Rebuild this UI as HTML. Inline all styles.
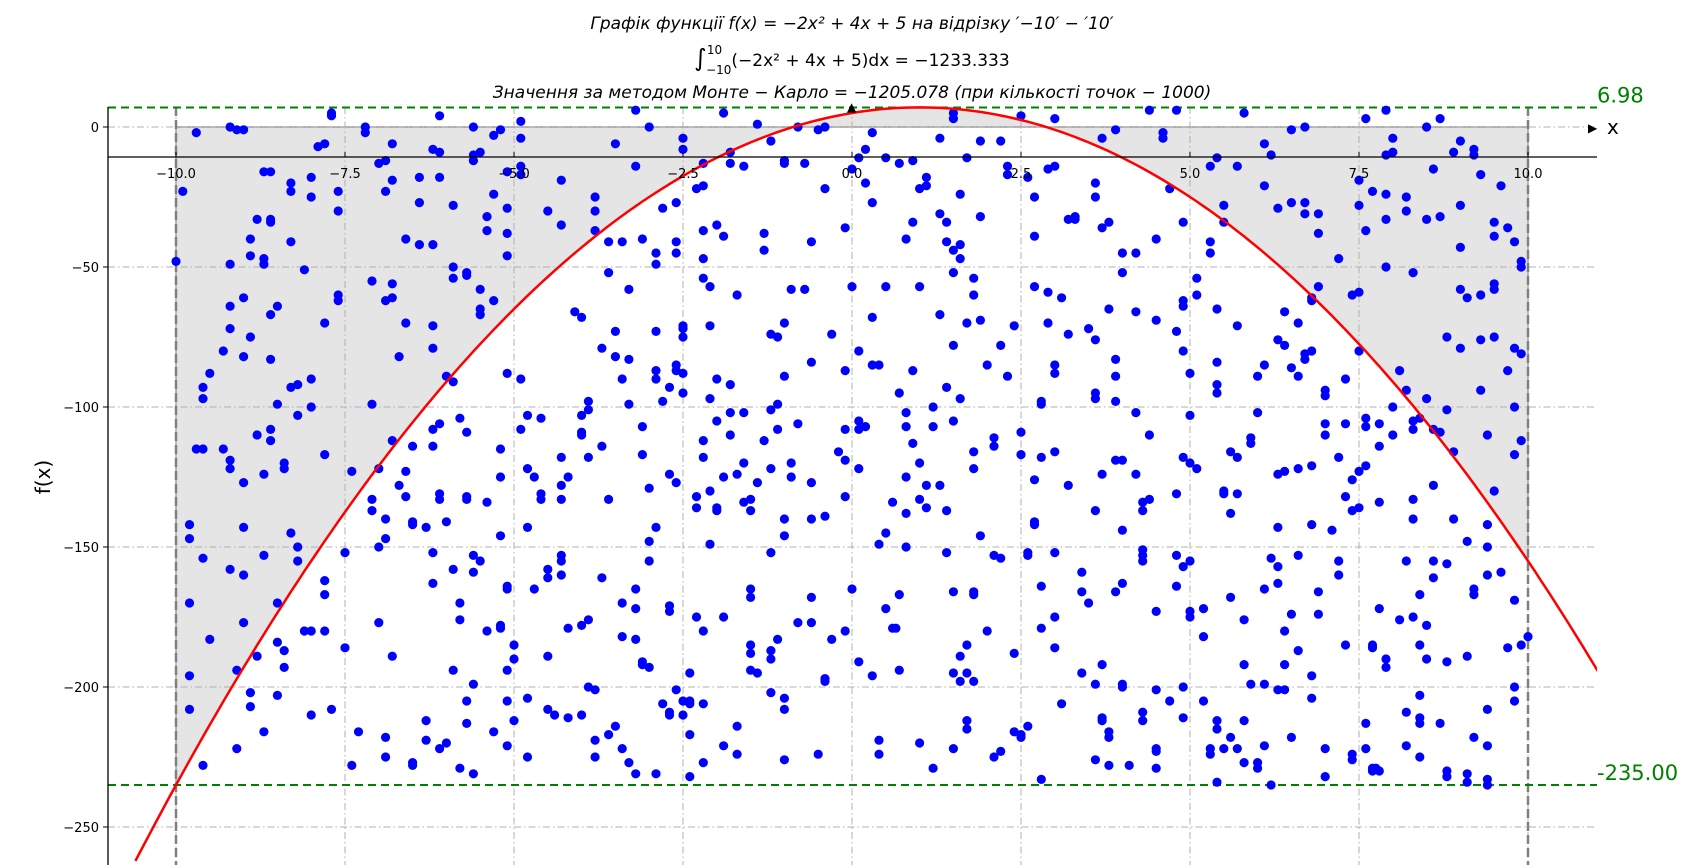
<!DOCTYPE html>
<html><head><meta charset="utf-8"><style>
html,body{margin:0;padding:0;background:#fff;}
svg{display:block;font-family:"DejaVu Sans","Liberation Sans",sans-serif;}
</style></head><body>
<svg id="chart" width="1698" height="865" xmlns="http://www.w3.org/2000/svg">
<g font-size="17" text-anchor="middle" fill="#000">
<text x="852" y="29" font-style="italic">Графік функції f(x)  =  −2x² + 4x + 5 на відрізку ′−10′ − ′10′</text>
<text x="852" y="66"><tspan font-size="24">∫</tspan><tspan font-size="12" dy="-12">10</tspan><tspan font-size="12" dx="-16" dy="20">−10</tspan><tspan dy="-8">(−2x² + 4x + 5)dx  =  −1233.333</tspan></text>
<text x="852" y="98" font-style="italic">Значення за методом Монте − Карло  =  −1205.078 (при кількості точок − 1000)</text>
</g>
<g id="plot"></g>
</svg>
<script>
const xTicks=[-10,-7.5,-5,-2.5,0,2.5,5,7.5,10];
const xTickLabels=["−10.0","−7.5","−5.0","−2.5","0.0","2.5","5.0","7.5","10.0"];
const yTicks=[0,-50,-100,-150,-200,-250];
const yTickLabels=["0","−50","−100","−150","−200","−250"];
const fMax=6.98, fMin=-235.00;
const pts=[[-10,-48],[-9.9,-23],[-9.8,-170],[-9.8,-196],[-9.8,-147],[-9.8,-142],[-9.7,-115],[-9.6,-115],[-9.6,-93],[-9.6,-97],[-9.5,-88],[-9.6,-154],[-9.5,-183],[-9.6,-228],[-9.8,-208],[-9.7,-2],
[-9.3,-80],[-9.3,-115],[-9.2,-119],[-9.2,-122],[-9.2,-158],[-9.2,-64],[-9.2,-49],[-9.1,-222],[-9.1,-194],[-9.0,-177],[-9.0,-143],[-9.2,-72],[-9.2,0],[-9.1,-1],[-9.0,-1],[-9.0,-82],[-9.0,-61],[-9.0,-127],[-9.0,-160],[-8.9,-207],[-8.9,-202],[-8.9,-40],[-8.9,-46],[-8.9,-75],
[-8.8,-110],[-8.8,-189],[-8.8,-33],[-8.7,-16],[-8.7,-47],[-8.7,-49],[-8.7,-124],[-8.7,-153],[-8.7,-216],[-8.6,-34],[-8.6,-33],[-8.6,-67],[-8.6,-83],[-8.6,-108],[-8.6,-112],[-8.5,-184],[-8.5,-203],[-8.5,-170],[-8.6,-16],[-8.5,-99],[-8.5,-64],
[-8.4,-122],[-8.4,-120],[-8.4,-187],[-8.4,-193],[-8.3,-41],[-8.3,-20],[-8.3,-23],[-8.3,-93],[-8.3,-145],[-8.2,-92],[-8.2,-103],[-8.2,-155],[-8.2,-150],[-8.1,-51],[-8.1,-180],[-8.0,-25],[-8.0,-18],[-8.0,-90],[-8.0,-100],[-8.0,-180],[-8.0,-210],[-7.9,-7],[-7.8,-6],[-7.8,-117],[-7.8,-70],[-7.8,-162],[-7.8,-167],[-7.8,-180],[-7.7,-208],[-7.7,4],[-7.7,5],[-7.6,-23],[-7.6,-60],[-7.6,-62],[-7.6,-30],[-7.5,-186],[-7.5,-152],[-7.4,-228],[-7.4,-123],[-7.3,-216],
[-7.2,0],[-7.2,-2],[-7.1,-55],[-7.1,-99],[-7.1,-133],[-7.1,-137],[-7.0,-150],[-7.0,-177],[-7.0,-122],[-7.0,-13],[-6.9,-12],[-6.9,-23],[-6.9,-62],[-6.9,-218],[-6.9,-225],[-6.9,-140],[-6.9,-147],[-6.8,-19],[-6.8,-6],[-6.8,-61],[-6.8,-56],[-6.8,-112],[-6.8,-189],[-6.7,-128],[-6.7,-82],[-6.6,-40],[-6.6,-70],[-6.6,-123],[-6.6,-132],[-6.5,-227],[-6.5,-228],[-6.5,-141],[-6.5,-142],[-6.5,-114],[-6.4,-18],[-6.4,-42],[-6.4,-27],[-6.3,-212],[-6.3,-219],[-6.3,-143],
[-6.2,-42],[-6.2,-71],[-6.2,-79],[-6.2,-152],[-6.2,-163],[-6.2,-8],[-6.2,-108],[-6.2,-114],[-6.1,-9],[-6.1,-18],[-6.1,4],[-6.1,-106],[-6.1,-131],[-6.1,-133],[-6.1,-222],[-6.0,-220],[-6.0,-141],[-6.0,-89],[-5.9,-158],[-5.9,-28],[-5.9,-50],[-5.9,-54],[-5.9,-91],[-5.9,-194],[-5.8,-170],[-5.8,-176],[-5.8,-104],[-5.8,-229],[-5.7,-53],[-5.7,-52],[-5.7,-109],[-5.7,-132],[-5.7,-133],[-5.7,-213],[-5.7,-205],[-5.6,0],[-5.6,-10],[-5.6,-12],[-5.6,-153],[-5.6,-159],[-5.6,-199],[-5.6,-231],[-5.5,-58],[-5.5,-65],[-5.5,-67],[-5.5,-9],[-5.5,-155],
[-5.4,-37],[-5.4,-32],[-5.4,-134],[-5.4,-180],[-5.3,-3],[-5.3,-216],[-5.3,-24],[-5.3,-62],[-5.2,-1],[-5.2,-146],[-5.2,-178],[-5.2,-179],[-5.2,-115],[-5.2,-125],[-5.1,-16],[-5.1,-29],[-5.1,-38],[-5.1,-46],[-5.1,-88],[-5.1,-165],[-5.1,-164],[-5.1,-205],[-5.1,-221],[-5.1,-194],[-5.0,-185],[-5.0,-190],[-5.0,-212],[-4.9,-90],[-4.9,-108],[-4.9,-4],[-4.9,2],[-4.9,-17],[-4.9,-14],[-4.8,-103],[-4.8,-122],[-4.8,-225],[-4.8,-204],[-4.8,-143],[-4.7,-125],[-4.7,-165],[-4.6,-131],[-4.6,-133],[-4.6,-104],[-4.5,-30],[-4.5,-158],[-4.5,-161],[-4.5,-208],[-4.5,-189],
[-4.4,-210],[-4.3,-133],[-4.3,-128],[-4.3,-155],[-4.3,-153],[-4.3,-160],[-4.3,-118],[-4.3,-19],[-4.3,-35],[-4.2,-211],[-4.2,-179],[-4.2,-125],[-4.1,-66],[-4.0,-109],[-4.0,-68],[-4.0,-178],[-4.0,-210],[-4.0,-103],[-4.0,-110],[-3.9,-101],[-3.9,-98],[-3.9,-118],[-3.9,-176],[-3.9,-200],[-3.8,-225],[-3.8,-219],[-3.8,-201],[-3.8,-37],[-3.8,-30],[-3.8,-25],[-3.7,-79],[-3.7,-161],[-3.7,-114],[-3.6,-133],[-3.6,-41],[-3.6,-52],[-3.6,-217],[-3.5,-73],[-3.5,-82],[-3.5,-6],[-3.5,-214],[-3.4,-90],[-3.4,-41],[-3.4,-170],[-3.4,-182],[-3.4,-222],[-3.3,-99],[-3.3,-58],[-3.3,-83],[-3.3,-227],[-3.2,-231],[-3.2,-165],[-3.2,-172],[-3.2,-183],[-3.2,-14],[-3.2,6],[-3.1,-40],[-3.1,-117],[-3.1,-191],[-3.1,-192],[-3.1,-107],[-3.0,-129],[-3.0,-148],[-3.0,-155],[-3.0,-193],[-3.0,0],[-2.9,-49],[-2.9,-45],[-2.9,-87],[-2.9,-90],[-2.9,-73],[-2.9,-143],[-2.9,-231],[-2.8,-98],[-2.8,-29],
[-2.8,-206],[-2.7,-173],[-2.7,-171],[-2.7,-209],[-2.7,-210],[-2.7,-124],[-2.7,-93],[-2.6,-127],[-2.6,-85],[-2.6,-87],[-2.6,-45],[-2.6,-41],[-2.6,-27],[-2.6,-201],[-2.5,-210],[-2.5,-205],[-2.5,-95],[-2.5,-88],[-2.5,-72],[-2.5,-75],[-2.5,-71],[-2.5,-4],[-2.5,-8],[-2.4,-195],[-2.4,-205],[-2.4,-206],[-2.4,-232],[-2.4,-217],[-2.3,-175],[-2.3,-136],[-2.3,-132],[-2.3,-22],[-2.2,-54],[-2.2,-47],[-2.2,-37],[-2.2,-13],[-2.2,-21],[-2.2,-112],[-2.2,-118],[-2.2,-180],[-2.2,-206],[-2.2,-227],[-2.1,-149],[-2.1,-130],[-2.1,-97],[-2.1,-71],[-2.1,-57],[-2.0,-90],[-2.0,-105],[-2.0,-137],[-2.0,-136],[-2.0,-35],[-1.9,-125],[-1.9,-221],[-1.9,-175],[-1.9,-39],[-1.9,5],[-1.8,-102],[-1.8,-110],[-1.8,-92],[-1.8,-13],[-1.8,-9],[-1.7,-124],[-1.7,-224],[-1.7,-214],[-1.7,-60],[-1.6,-134],[-1.6,-120],[-1.6,-102],[-1.6,-14],[-1.5,-185],[-1.5,-194],[-1.5,-188],[-1.5,-168],[-1.5,-165],[-1.5,-137],[-1.5,-133],[-1.4,-195],[-1.4,-127],[-1.4,1],[-1.3,-112],[-1.3,-38],[-1.3,-44],[-1.2,-202],[-1.2,-190],[-1.2,-187],[-1.2,-152],[-1.2,-122],[-1.2,-101],[-1.2,-74],[-1.2,-5],[-1.1,-183],[-1.1,-108],[-1.1,-99],[-1.1,-75],[-1.0,-70],[-1.0,-89],[-1.0,-12],[-1.0,-13],[-1.0,-140],[-1.0,-146],[-1.0,-204],[-1.0,-208],[-1.0,-226],[-0.9,-125],[-0.9,-58],[-0.9,-120],[-0.8,0],[-0.8,-106],[-0.8,-177],[-0.7,-13],[-0.7,-58],[-0.6,-127],[-0.6,-140],[-0.6,-168],[-0.6,-177],[-0.6,-84],[-0.6,-41],[-0.5,-1],[-0.5,-224],[-0.4,-139],[-0.4,-197],[-0.4,-198],[-0.4,-22],[-0.4,0],[-0.3,-183],[-0.3,-74],[-0.2,-116],[-0.1,-87],[-0.1,-108],[-0.1,-119],[-0.1,-132],[-0.1,-180],[-0.1,-36],[0.0,-57],[0.0,-15],[0.0,-165],[0.1,-122],[0.1,-105],[0.1,-108],[0.1,-80],[0.1,-11],[0.1,-191],[0.2,-107],[0.2,-8],[0.2,-20],[0.3,-85],[0.3,-27],[0.3,-2],[0.3,-68],[0.3,-196],[0.4,-224],[0.4,-219],[0.4,-149],[0.4,-85],[0.5,-57],[0.5,-11],[0.5,-145],[0.5,-172],[0.6,-179],[0.65,-179],[0.6,-134],[0.7,-194],[0.7,-167],[0.7,-95],[0.7,-13],[0.8,-40],[0.8,-102],[0.8,-107],[0.8,-125],[0.8,-138],[0.8,-150],[0.9,-34],[0.9,-12],[0.9,-87],[0.9,-113],[1.0,-133],[1.0,-120],[1.0,-220],[1.0,-57],[1.0,-22],[1.1,-21],[1.1,-18],[1.1,-128],[1.1,-136],[1.2,-100],[1.2,-229],[1.2,-107],[1.3,-4],[1.3,-31],[1.3,-67],[1.3,-128],[1.4,-34],[1.4,-41],[1.4,-93],[1.4,-137],[1.4,-152],[1.5,5],[1.5,3],[1.5,-44],[1.5,-52],[1.5,-78],[1.5,-105],[1.5,-166],[1.5,-195],[1.5,-222],[1.6,-47],[1.6,-42],[1.6,-24],[1.6,-97],[1.6,-189],[1.6,-198],[1.7,-70],[1.7,-212],[1.7,-215],[1.7,-11],[1.7,-195],[1.7,-185],[1.8,-198],[1.8,-167],[1.8,-166],[1.8,-116],[1.8,-122],[1.8,-60],[1.8,-54],[1.9,-5],[1.9,-32],[1.9,-69],[1.9,-146],[2.0,-85],[2.0,-180],[2.1,-114],[2.1,-111],[2.1,-153],[2.1,-225],[2.2,-5],[2.2,-78],[2.2,-154],[2.2,-223],[2.3,-17],[2.3,-89],[2.3,-14],[2.4,-71],[2.4,-188],[2.4,-216],[2.5,4],[2.5,-217],[2.5,-218],[2.5,-109],[2.5,-117],[2.6,-18],[2.6,-152],[2.6,-153],[2.6,-214],[2.7,-25],[2.7,-39],[2.7,-57],[2.7,-126],[2.7,-141],[2.7,-142],[2.8,-98],[2.8,-99],[2.8,-118],[2.8,-164],[2.8,-179],[2.8,-233],[2.9,-15],[2.9,-59],[2.9,-70],[3.0,-14],[3.0,-88],[3.0,-85],[3.0,-116],[3.0,-152],[3.0,-175],[3.0,-186],[3.0,3],[3.1,-61],[3.1,-206],[3.2,-74],[3.2,-33],[3.2,-128],[3.3,-32],[3.3,-33],[3.4,-195],[3.4,-166],[3.4,-159],[3.5,-72],[3.5,-170],[3.6,-25],[3.6,-20],[3.6,-76],[3.6,-95],[3.6,-97],[3.6,-137],[3.6,-199],[3.6,-226],[3.7,-192],[3.7,-211],[3.7,-212],[3.7,-124],[3.7,-4],[3.7,-36],[3.8,-65],[3.8,-34],[3.8,-216],[3.8,-218],[3.8,-228],[3.9,-166],[3.9,-119],[3.9,-98],[3.9,-89],[3.9,-83],[3.9,-1],[4.0,-52],[4.0,-45],[4.0,-119],[4.0,-144],[4.0,-163],[4.0,-199],[4.0,-200],[4.1,-228],[4.2,-66],[4.2,-45],[4.2,-124],[4.2,-102],[4.3,-137],[4.3,-134],[4.3,-151],[4.3,-153],[4.3,-155],[4.3,-209],[4.3,-212],[4.4,-110],[4.4,-133],[4.4,6],[4.5,-201],[4.5,-222],[4.5,-229],[4.5,-223],[4.5,-173],[4.5,-69],[4.5,-40],[4.6,-4],[4.6,-2],[4.7,-22],[4.7,-205],[4.8,6],[4.8,-73],[4.8,-153],[4.8,-164],[4.8,-131],[4.9,-211],[4.9,-200],[4.9,-157],[4.9,-118],[4.9,-80],[4.9,-64],[4.9,-62],[4.9,-34],[5.0,-88],[5.0,-103],[5.0,-120],[5.0,-155],[5.0,-175],[5.0,-173],[5.1,-54],[5.1,-60],[5.1,-122],[5.2,-182],[5.2,-205],[5.2,-172],[5.3,-41],[5.3,-45],[5.3,-14],[5.3,-222],[5.3,-224],[5.4,-92],[5.4,-95],[5.4,-84],[5.4,-65],[5.4,-11],[5.4,-212],[5.4,-215],[5.4,-234],[5.5,-28],[5.5,-34],[5.5,-130],[5.5,-131],[5.5,-222],[5.6,-116],[5.6,-138],[5.6,-168],[5.6,-218],[5.7,-14],[5.7,-71],[5.7,-118],[5.7,-131],[5.7,-222],[5.8,-192],[5.8,-176],[5.8,-227],[5.8,-212],[5.8,5],[5.9,-111],[5.9,-113],[5.9,-199],[6.0,-227],[6.0,-229],[6.0,-89],[6.0,-102],[6.1,-21],[6.1,-6],[6.1,-85],[6.1,-165],[6.1,-199],[6.1,-221],[6.2,-235],[6.2,-154],[6.2,-10],[6.3,-124],[6.3,-157],[6.3,-163],[6.3,-143],[6.3,-201],[6.3,-29],[6.3,-76],[6.4,-123],[6.4,-66],[6.4,-78],[6.4,-180],[6.4,-192],[6.4,-201],[6.5,-218],[6.5,-174],[6.5,-86],[6.5,-27],[6.5,-1],[6.6,-70],[6.6,-122],[6.6,-89],[6.6,-153],[6.6,-187],[6.7,0],[6.7,-27],[6.7,-31],[6.7,-81],[6.7,-83],[6.8,-80],[6.8,-62],[6.8,-61],[6.8,-142],[6.8,-121],[6.8,-196],[6.8,-204],[6.9,-31],[6.9,-38],[6.9,-57],[6.9,-166],[6.9,-174],[7.0,-94],[7.0,-106],[7.0,-110],[7.0,-232],[7.0,-222],[7.0,-96],[7.1,-144],[7.2,-47],[7.2,-118],[7.2,-155],[7.2,-160],[7.3,-132],[7.3,-185],[7.3,-90],[7.3,-106],[7.4,-126],[7.4,-60],[7.4,-137],[7.4,-224],[7.4,-226],[7.5,-136],[7.5,-123],[7.5,-80],[7.5,-59],[7.5,-19],[7.5,-28],[7.6,3],[7.6,-37],[7.6,-107],[7.6,-104],[7.6,-121],[7.6,-213],[7.6,-222],[7.7,-230],[7.7,-229],[7.7,-23],[7.7,-185],[7.7,-186],[7.75,-229],[7.8,-134],[7.8,-114],[7.8,-106],[7.8,-172],[7.8,-230],[7.9,-190],[7.9,-193],[7.9,6],[7.9,-10],[7.9,-24],[7.9,-33],[7.9,-50],[8.0,-110],[8.0,-100],[8.0,-9],[8.0,-4],[8.1,-176],[8.1,-87],[8.2,-94],[8.2,-155],[8.2,-209],[8.2,-221],[8.2,-25],[8.2,-30],[8.3,-52],[8.3,-105],[8.3,-108],[8.3,-133],[8.3,-140],[8.3,-175],[8.4,-203],[8.4,-211],[8.4,-213],[8.4,-225],[8.4,-104],[8.4,-167],[8.4,-185],[8.5,-178],[8.5,-190],[8.5,0],[8.5,-33],[8.5,-97],[8.6,-108],[8.6,-128],[8.6,-155],[8.6,-161],[8.6,-15],[8.7,3],[8.7,-32],[8.7,-109],[8.7,-213],[8.8,-191],[8.8,-232],[8.8,-230],[8.8,-156],[8.8,-101],[8.8,-75],[8.9,-116],[8.9,-140],[8.9,-9],[9.0,-43],[9.0,-58],[9.0,-79],[9.0,-28],[9.0,-5],[9.1,-61],[9.1,-148],[9.1,-189],[9.1,-231],[9.1,-234],[9.2,-167],[9.2,-165],[9.2,-218],[9.2,-10],[9.2,-8],[9.3,-76],[9.3,-94],[9.3,-17],[9.3,-60],[9.4,-110],[9.4,-142],[9.4,-150],[9.4,-160],[9.4,-208],[9.4,-221],[9.4,-233],[9.4,-235],[9.5,-58],[9.5,-56],[9.5,-75],[9.5,-39],[9.5,-34],[9.5,-130],[9.6,-159],[9.6,-21],[9.7,-87],[9.7,-186],[9.7,-36],[9.8,-117],[9.8,-100],[9.8,-79],[9.8,-169],[9.8,-205],[9.8,-200],[9.8,-41],[9.9,-81],[9.9,-112],[9.9,-185],[9.9,-50],[9.9,-48],[10.0,-182]];

const NS="http://www.w3.org/2000/svg";
const L=108,R=1597,T=107,B=865;
const X0=176,X1=1528;
const sx=v=>X0+(v+10)*(X1-X0)/20;
const sy=v=>127-v*2.8;
const f=x=>-2*x*x+4*x+5;
const g=document.getElementById('plot');
function mk(tag,attrs,parent){const e=document.createElementNS(NS,tag);for(const k in attrs)e.setAttribute(k,attrs[k]);(parent||g).appendChild(e);return e;}

const defs=mk('defs',{});
const cp=mk('clipPath',{id:'clip'},defs);
mk('rect',{x:L,y:T-2,width:R-L,height:B-T+2},cp);

let d=`M${sx(-10)},${sy(0)}`;
for(let i=0;i<=200;i++){const x=-10+i*0.1;d+=` L${sx(x).toFixed(1)},${sy(f(x)).toFixed(1)}`;}
d+=` L${sx(10)},${sy(0)} Z`;
const fill=mk('path',{d:d,fill:'#e5e5e5',stroke:'#999','stroke-width':1.5,'clip-path':'url(#clip)'});



xTicks.forEach((t,i)=>{
 const ln=mk('line',{x1:sx(t),x2:sx(t),y1:T,y2:B,stroke:'#b0b0b0','stroke-width':1,'stroke-dasharray':'7,3,1.5,3'});
 
 
});
yTicks.forEach((t,i)=>{
 const ln=mk('line',{x1:L,x2:R,y1:sy(t),y2:sy(t),stroke:'#b0b0b0','stroke-width':1,'stroke-dasharray':'7,3,1.5,3'});
 
 
});
[-10,10].forEach(t=>{
 const ln=mk('line',{x1:sx(t),x2:sx(t),y1:T,y2:B,stroke:'#808080','stroke-width':2.5,'stroke-dasharray':'9,4'});
 
 
});
[[fMax,'6.98','max-line'],[fMin,'-235.00','min-line']].forEach(([v,lab,nm])=>{
 const ln=mk('line',{x1:L,x2:R,y1:sy(v),y2:sy(v),stroke:'#008000','stroke-width':2,'stroke-dasharray':'8,5'});
 
 
 const tx=mk('text',{x:R,y:sy(v)-5,fill:'#008000','font-size':21});
 tx.textContent=lab;
 
 
});

pts.forEach(p=>{
 const c=mk('circle',{cx:sx(p[0]).toFixed(1),cy:sy(p[1]).toFixed(1),r:4.6,fill:'#0000ff','clip-path':'url(#clip)'});
 
 
});

let cd='';
for(let i=0;i<=220;i++){const x=-10.6+i*0.1;cd+=(i?' L':'M')+sx(x).toFixed(1)+','+sy(f(x)).toFixed(1);}
const curve=mk('path',{d:cd,fill:'none',stroke:'#ff0000','stroke-width':2.5,'clip-path':'url(#clip)'});



const ax=mk('line',{x1:L,x2:R,y1:157,y2:157,stroke:'#000','stroke-width':1.3});


const ay=mk('line',{x1:L,x2:L,y1:T,y2:B,stroke:'#000','stroke-width':1.3});


const xl=mk('text',{x:R+10,y:sy(0)+7,'font-size':20,fill:'#000'});
xl.textContent='x';


const xa=mk('text',{x:R-9,y:sy(0)+5,'font-size':12,fill:'#000'});
xa.textContent='▶';


const ya=mk('text',{x:sx(0)-5,y:T+4,'font-size':12,fill:'#000'});
ya.textContent='▲';



xTicks.forEach((t,i)=>{
 const tk=mk('line',{x1:sx(t),x2:sx(t),y1:157,y2:152,stroke:'#000','stroke-width':1});
 
 
 const tx=mk('text',{x:sx(t),y:178,'font-size':13,'text-anchor':'middle',fill:'#000'});
 tx.textContent=xTickLabels[i];
 
 
});
yTicks.forEach((t,i)=>{
 const tk=mk('line',{x1:L-5,x2:L,y1:sy(t),y2:sy(t),stroke:'#000','stroke-width':1});
 
 
 const tx=mk('text',{x:L-9,y:sy(t)+5,'font-size':13,'text-anchor':'end',fill:'#000'});
 tx.textContent=yTickLabels[i];
 
 
});
const yl=mk('text',{x:50,y:477,'font-size':20,'text-anchor':'middle',fill:'#000',transform:'rotate(-90 50 477)'});
yl.textContent='f(x)';


</script>
</body></html>
